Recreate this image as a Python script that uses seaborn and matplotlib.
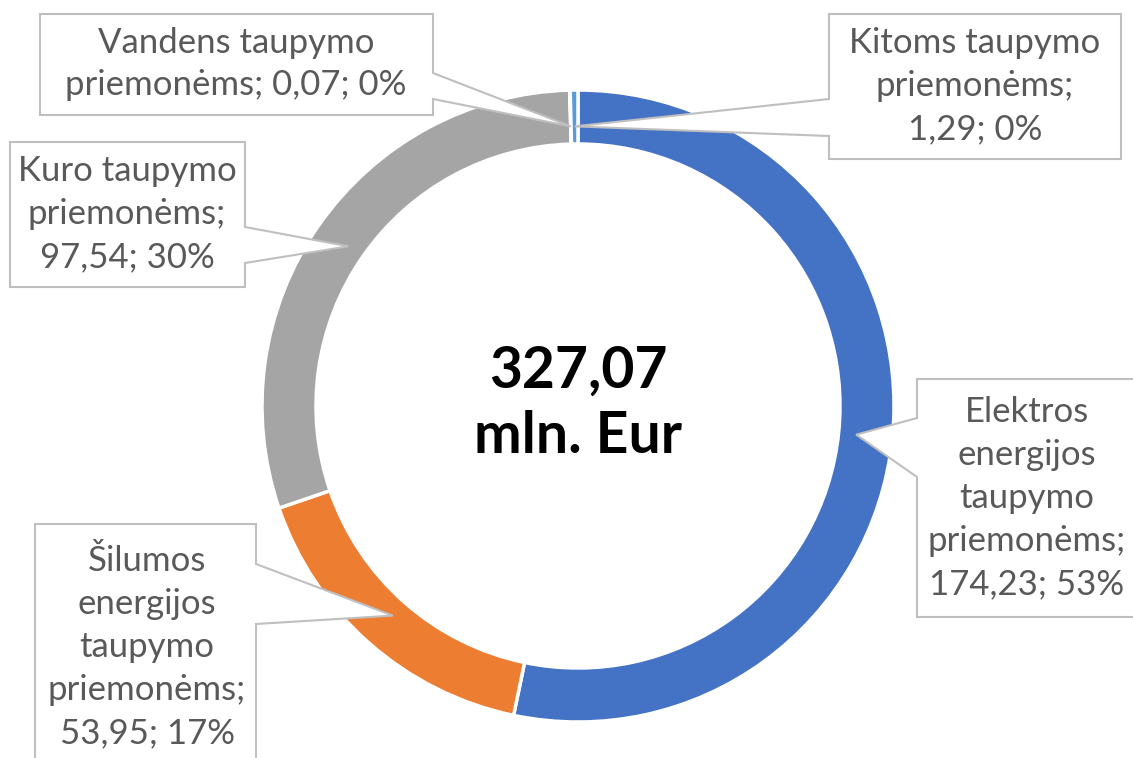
import matplotlib
matplotlib.use("Agg")
import numpy as np
import matplotlib.pyplot as plt
from matplotlib.patches import Polygon
import seaborn as sns

categories = ["Elektros energijos taupymo priemonėms", "Šilumos energijos taupymo priemonėms",
              "Kuro taupymo priemonėms", "Vandens taupymo priemonėms", "Kitoms taupymo priemonėms"]
values = [174.23, 53.95, 97.54, 0.07, 1.29]
label_texts = ["Elektros\nenergijos\ntaupymo\npriemonėms;\n174,23; 53%",
               "Šilumos\nenergijos\ntaupymo\npriemonėms;\n53,95; 17%",
               "Kuro taupymo\npriemonėms;\n97,54; 30%",
               "Vandens taupymo\npriemonėms; 0,07; 0%",
               "Kitoms taupymo\npriemonėms;\n1,29; 0%"]
center_text = "327,07\nmln. Eur"
colors = ["#4472C4", "#ED7D31", "#A5A5A5", "#FFC000", "#5B9BD5"]

sns.set_theme(style="white")
plt.rcParams["font.family"] = ["Lato", "DejaVu Sans"]

W, H = 1133, 758
fig = plt.figure(figsize=(W / 100, H / 100), dpi=100)
ax = fig.add_axes([0, 0, 1, 1])

cx, cy = 578, H - 406
R = 316
wedges, _ = ax.pie(values, colors=colors, center=(cx, cy), radius=R, startangle=90,
                   counterclock=False, frame=True,
                   wedgeprops=dict(width=54, edgecolor="white", linewidth=2.5))
ax.set_xlim(0, W)
ax.set_ylim(0, H)
ax.set_aspect("equal")
ax.axis("off")

ax.text(cx, cy + 2, center_text, ha="center", va="center", fontsize=41,
        fontweight="bold", color="black", linespacing=1.3)

# callout layout in pixel coords (from top): box (x0, y0, x1, y1), side of pointer, pointer base span
layout = [
    ((917, 379, 1150, 617), "left", (418, 477), (1027, 498)),
    ((35, 524, 256, 790), "right", (564, 624), (147, 647)),
    ((10, 142, 245, 287), "right", (227, 263), (127, 214)),
    ((40, 14, 433, 115), "right", (73, 99), (236, 64)),
    ((829, 14, 1121, 159), "left", (99, 136), (975, 86)),
]

def fy(y):
    return H - y

for w, txt, (box, side, base, tpos) in zip(wedges, label_texts, layout):
    mid = np.deg2rad((w.theta1 + w.theta2) / 2)
    rr = w.r * 0.885
    tip = (w.center[0] + rr * np.cos(mid), w.center[1] + rr * np.sin(mid))
    x0, y0, x1, y1 = box
    b1, b2 = base
    if side == "left":
        verts = [(x0, fy(y0)), (x1, fy(y0)), (x1, fy(y1)), (x0, fy(y1)),
                 (x0, fy(b2)), tip, (x0, fy(b1))]
    else:
        verts = [(x0, fy(y0)), (x1, fy(y0)), (x1, fy(b1)), tip,
                 (x1, fy(b2)), (x1, fy(y1)), (x0, fy(y1))]
    ax.add_patch(Polygon(verts, closed=True, fc="white", ec="#BFBFBF", lw=1.5,
                         zorder=4, joinstyle="miter", clip_on=False))
    ax.text(tpos[0], fy(tpos[1]), txt, ha="center", va="center", fontsize=25,
            color="#595959", linespacing=1.42, zorder=5)

fig.savefig("out.png", dpi=100, facecolor="white")
